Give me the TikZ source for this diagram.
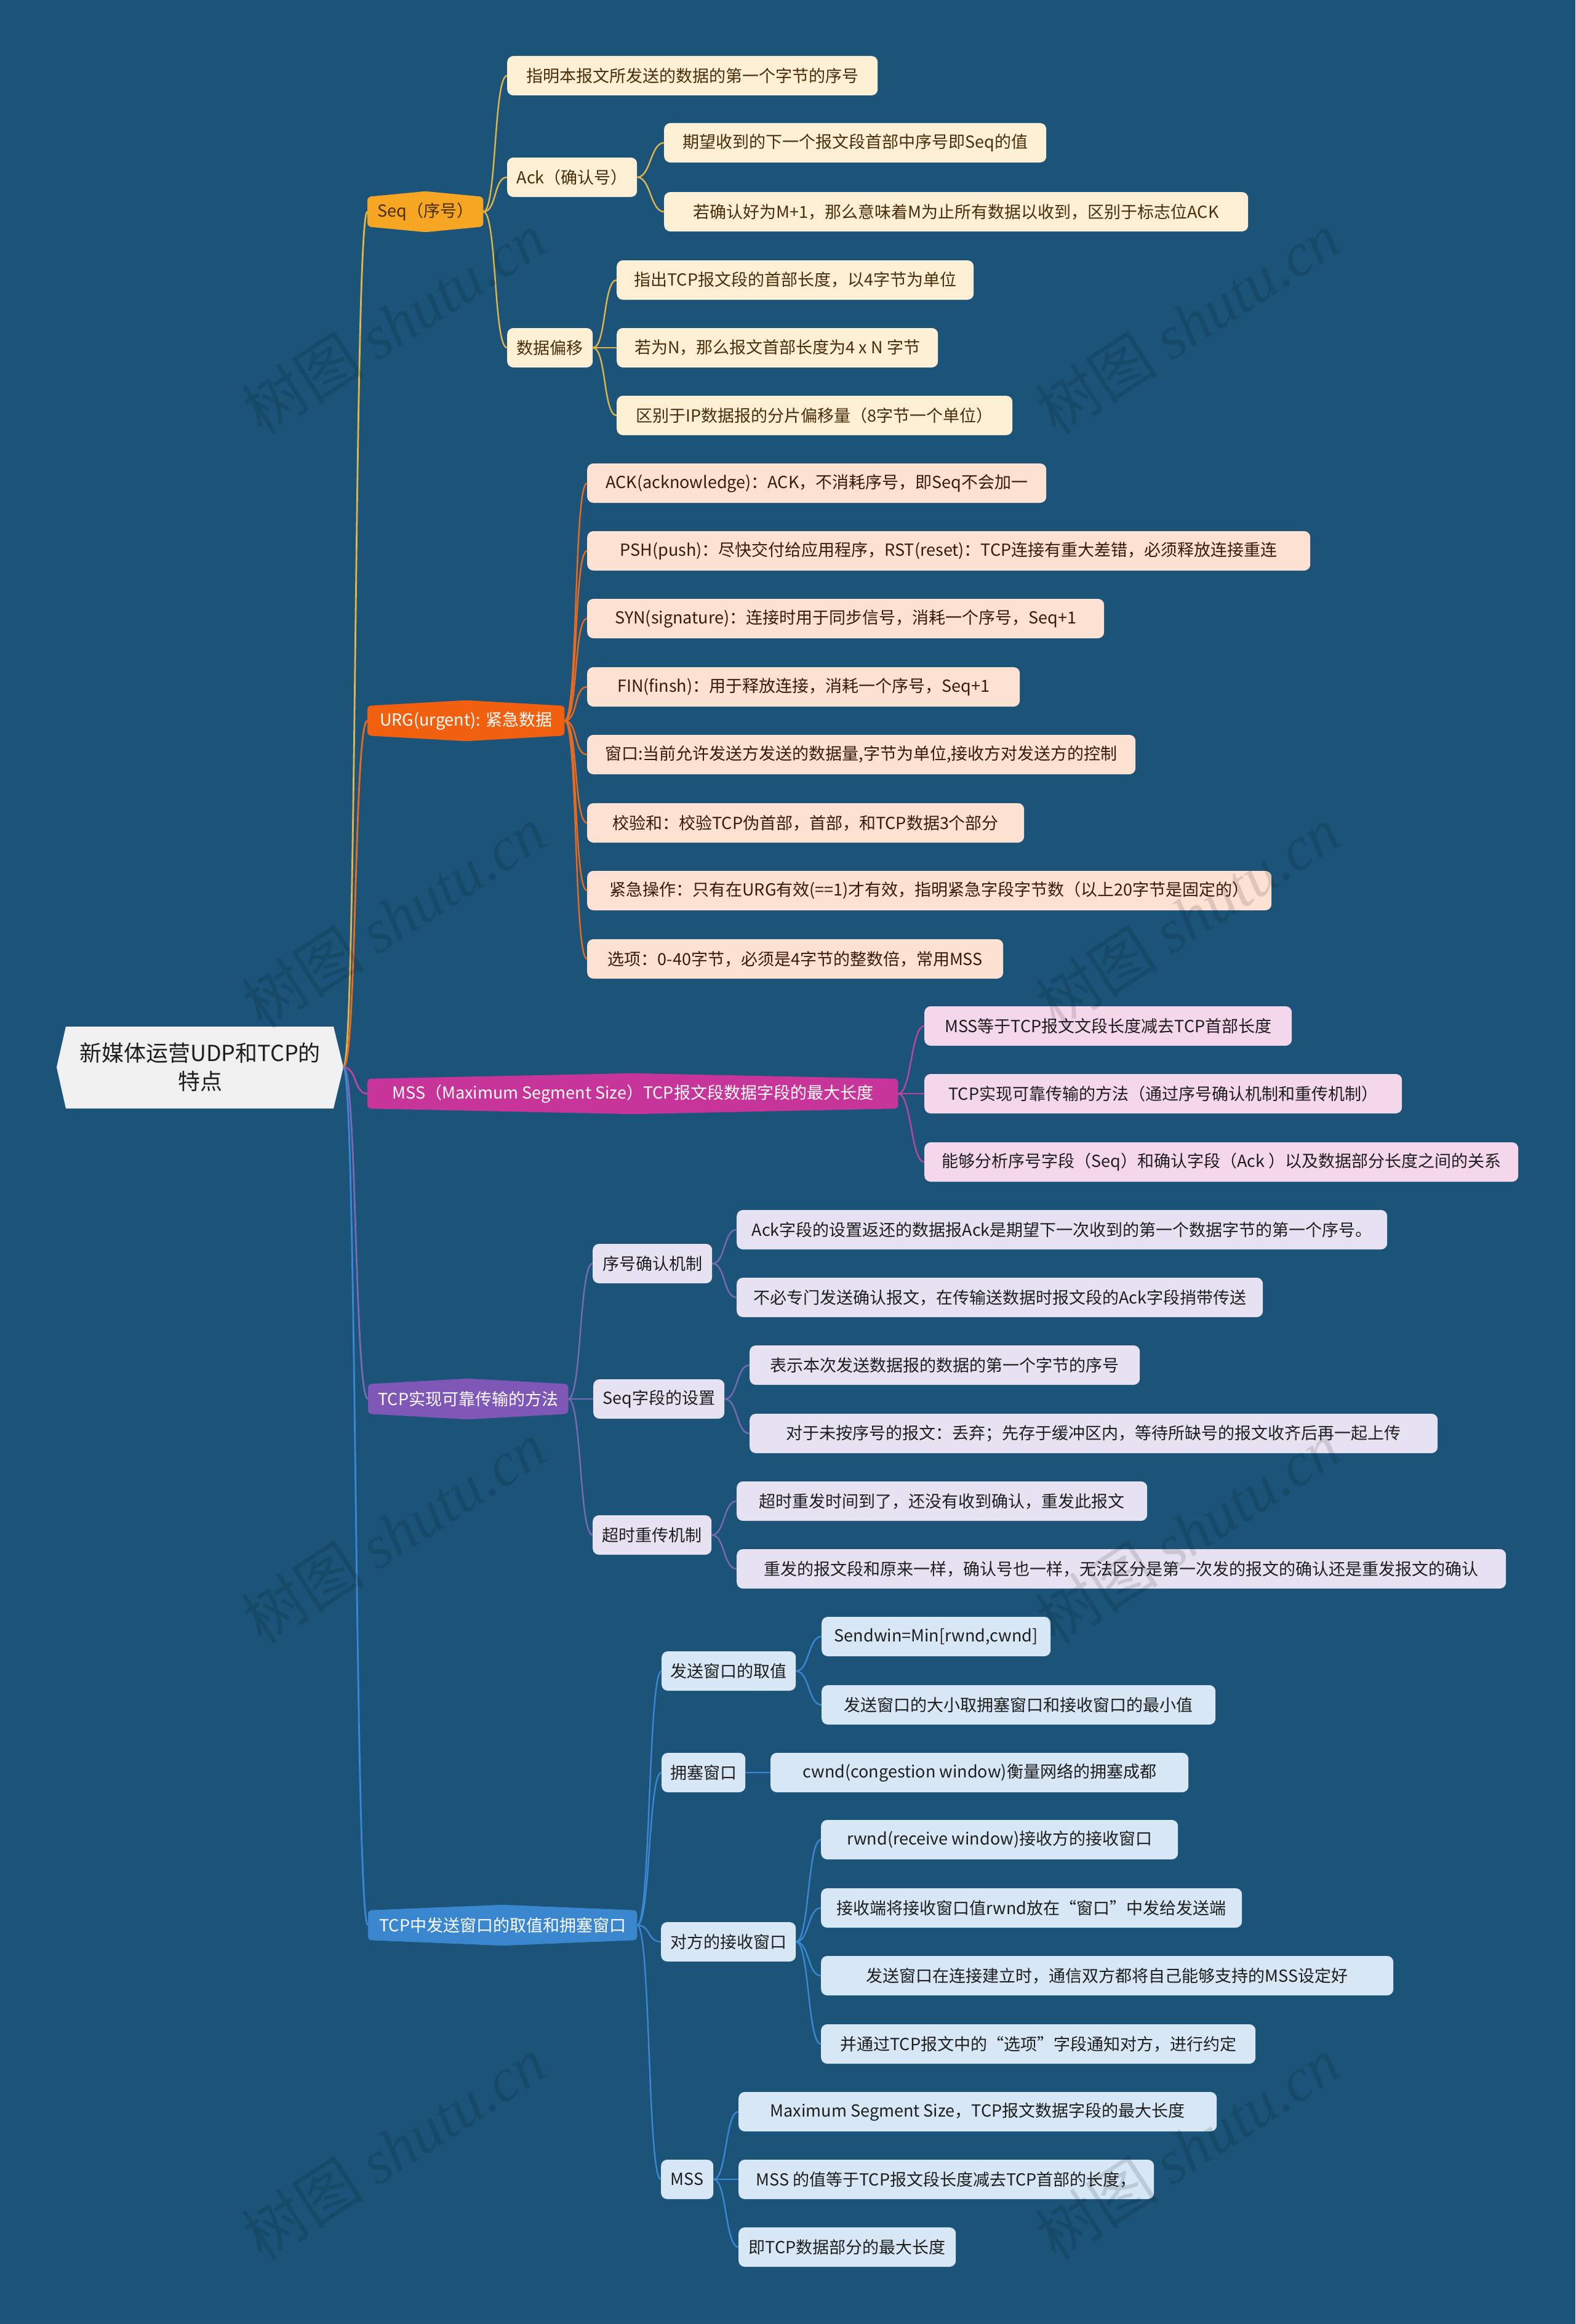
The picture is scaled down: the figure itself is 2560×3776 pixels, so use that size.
\documentclass[tikz,border=0pt]{standalone}
\usepackage{fontspec}
\setmainfont{Noto Sans CJK SC}
\newfontfamily\wmserif{Liberation Serif}
\usetikzlibrary{calc}
\pgfdeclarelayer{back}
\pgfdeclarelayer{bg}
\pgfsetlayers{back,bg,main}
\definecolor{bgc}{HTML}{1B5478}
\definecolor{rootfill}{HTML}{F0F0F0}
\definecolor{seqfill}{HTML}{F6A623}
\definecolor{seqleaf}{HTML}{FDEFD4}
\definecolor{seqline}{HTML}{E2B54B}
\definecolor{seqtext}{HTML}{4A2E0C}
\definecolor{urgfill}{HTML}{F0600F}
\definecolor{urgleaf}{HTML}{FDE1D3}
\definecolor{urgline}{HTML}{EA6A1F}
\definecolor{urgtext}{HTML}{3B1A0B}
\definecolor{mssfill}{HTML}{C7359A}
\definecolor{mssleaf}{HTML}{F4D7EA}
\definecolor{mssline}{HTML}{B9479F}
\definecolor{relfill}{HTML}{7F58B7}
\definecolor{relleaf}{HTML}{E6E2F1}
\definecolor{relline}{HTML}{7A69B5}
\definecolor{winfill}{HTML}{3A86CF}
\definecolor{winleaf}{HTML}{D7E7F5}
\definecolor{winline}{HTML}{3C87D3}
\definecolor{darktext}{HTML}{1E1E1E}
\newcommand\fs{\fontsize{27}{32}\selectfont}
\newcommand\conn[3]{\draw[#3] (#1.east) .. controls +(22,0) and +(-22,0) .. (#2.west);}
\newcommand\hexbg[2]{\begin{pgfonlayer}{bg}\fill[#2, rounded corners=6pt] (#1.north west) -- ($(#1.north)+(0,-9)$) -- (#1.north east) -- (#1.south east) -- ($(#1.south)+(0,9)$) -- (#1.south west) -- cycle;\end{pgfonlayer}}
\tikzset{
  every node/.style={font=\fs},
  box/.style={anchor=west, rounded corners=10pt, minimum height=64pt, inner xsep=12pt, inner ysep=0pt, align=center},
  lone/.style={anchor=west, minimum height=48pt, inner xsep=12pt, inner ysep=0pt},
  sq/.style={box, fill=seqleaf, text=seqtext},
  ug/.style={box, fill=urgleaf, text=urgtext},
  ms/.style={box, fill=mssleaf, text=darktext},
  rl/.style={box, fill=relleaf, text=darktext},
  wn/.style={box, fill=winleaf, text=darktext},
  lseq/.style={line width=2.4pt, seqline},
  lurg/.style={line width=2.4pt, urgline},
  lmss/.style={line width=2.4pt, mssline},
  lrel/.style={line width=2.4pt, relline},
  lwin/.style={line width=2.4pt, winline},
  wm/.style={rotate=33, opacity=0.12, text=black, font=\fontsize{100}{110}\selectfont},
}
\begin{document}
\begin{tikzpicture}[x=1pt,y=-1pt]
\begin{pgfonlayer}{back}
\fill[bgc] (0,0) rectangle (2560,3776);
\end{pgfonlayer}
\useasboundingbox (0,0) rectangle (2560,3776);

% root
\fill[rootfill] (92,1734) -- (107,1668) -- (542,1668) -- (558,1734) -- (542,1801) -- (107,1801) -- cycle;
\node[text=darktext, align=center, font=\fontsize{36}{46}\selectfont] (root) at (325,1734) {新媒体运营UDP和TCP的\\特点};
\coordinate (rootp) at (558,1734);

% level 1
\node[lone, minimum width=188pt, text=seqtext] (seq) at (597,344) {Seq（序号）};
\hexbg{seq}{seqfill}
\node[lone, minimum width=320pt, text=white] (urg) at (597,1171) {URG(urgent): 紧急数据};
\hexbg{urg}{urgfill}
\node[lone, minimum width=862pt, text=white] (mss) at (597,1777) {MSS（Maximum Segment Size）TCP报文段数据字段的最大长度};
\hexbg{mss}{mssfill}
\node[lone, minimum width=325pt, text=white] (rel) at (598,2273) {TCP实现可靠传输的方法};
\hexbg{rel}{relfill}
\node[lone, minimum width=437pt, text=white] (win) at (598,3128) {TCP中发送窗口的取值和拥塞窗口};
\hexbg{win}{winfill}

\foreach \n/\s in {seq/lseq,urg/lurg,mss/lmss,rel/lrel,win/lwin}
  {\draw[\s, line width=2.8pt] (rootp) .. controls +(22,0) and +(-22,0) .. (\n.west);}

% Seq branch
\node[sq, minimum width=602pt] (s1) at (824,123) {指明本报文所发送的数据的第一个字节的序号};
\node[sq, minimum width=211pt] (ack) at (824,288) {Ack（确认号）};
\node[sq, minimum width=139pt] (off) at (824,565) {数据偏移};
\node[sq, minimum width=621pt] (a1) at (1079,232) {期望收到的下一个报文段首部中序号即Seq的值};
\node[sq, minimum width=949pt] (a2) at (1079,344) {若确认好为M+1，那么意味着M为止所有数据以收到，区别于标志位ACK};
\node[sq, minimum width=580pt] (o1) at (1002,455) {指出TCP报文段的首部长度，以4字节为单位};
\node[sq, minimum width=522pt] (o2) at (1002,565) {若为N，那么报文首部长度为4 x N 字节};
\node[sq, minimum width=643pt] (o3) at (1002,675) {区别于IP数据报的分片偏移量（8字节一个单位）};
\conn{seq}{s1}{lseq}
\conn{seq}{ack}{lseq}
\conn{seq}{off}{lseq}
\conn{ack}{a1}{lseq}
\conn{ack}{a2}{lseq}
\conn{off}{o1}{lseq}
\conn{off}{o2}{lseq}
\conn{off}{o3}{lseq}

% URG branch
\node[ug, minimum width=746pt] (u1) at (954,785) {ACK(acknowledge)：ACK，不消耗序号，即Seq不会加一};
\node[ug, minimum width=1175pt] (u2) at (954,895) {PSH(push)：尽快交付给应用程序，RST(reset)：TCP连接有重大差错，必须释放连接重连};
\node[ug, minimum width=840pt] (u3) at (954,1005) {SYN(signature)：连接时用于同步信号，消耗一个序号，Seq+1};
\node[ug, minimum width=703pt] (u4) at (954,1116) {FIN(finsh)：用于释放连接，消耗一个序号，Seq+1};
\node[ug, minimum width=891pt] (u5) at (954,1226) {窗口:当前允许发送方发送的数据量,字节为单位,接收方对发送方的控制};
\node[ug, minimum width=710pt] (u6) at (954,1337) {校验和：校验TCP伪首部，首部，和TCP数据3个部分};
\node[ug, minimum width=1112pt] (u7) at (954,1447) {紧急操作：只有在URG有效(==1)才有效，指明紧急字段字节数（以上20字节是固定的）};
\node[ug, minimum width=676pt] (u8) at (954,1558) {选项：0-40字节，必须是4字节的整数倍，常用MSS};
\foreach \c in {u1,u2,u3,u4,u5,u6,u7,u8} {\conn{urg}{\c}{lurg}}

% MSS branch
\node[ms, minimum width=597pt] (m1) at (1502,1667) {MSS等于TCP报文文段长度减去TCP首部长度};
\node[ms, minimum width=776pt] (m2) at (1502,1777) {TCP实现可靠传输的方法（通过序号确认机制和重传机制）};
\node[ms, minimum width=965pt] (m3) at (1502,1888) {能够分析序号字段（Seq）和确认字段（Ack ）以及数据部分长度之间的关系};
\foreach \c in {m1,m2,m3} {\conn{mss}{\c}{lmss}}

% reliable transfer branch
\node[rl, minimum width=194pt] (r1) at (963,2053) {序号确认机制};
\node[rl, minimum width=213pt] (r2) at (964,2273) {Seq字段的设置};
\node[rl, minimum width=193pt] (r3) at (963,2494) {超时重传机制};
\node[rl, minimum width=1057pt] (r11) at (1197,1998) {Ack字段的设置返还的数据报Ack是期望下一次收到的第一个数据字节的第一个序号。};
\node[rl, minimum width=855pt] (r12) at (1197,2108) {不必专门发送确认报文，在传输送数据时报文段的Ack字段捎带传送};
\node[rl, minimum width=634pt] (r21) at (1218,2218) {表示本次发送数据报的数据的第一个字节的序号};
\node[rl, minimum width=1118pt] (r22) at (1218,2329) {对于未按序号的报文：丢弃；先存于缓冲区内，等待所缺号的报文收齐后再一起上传};
\node[rl, minimum width=667pt] (r31) at (1197,2439) {超时重发时间到了，还没有收到确认，重发此报文};
\node[rl, minimum width=1250pt] (r32) at (1197,2549) {重发的报文段和原来一样，确认号也一样，无法区分是第一次发的报文的确认还是重发报文的确认};
\foreach \c in {r1,r2,r3} {\conn{rel}{\c}{lrel}}
\conn{r1}{r11}{lrel}
\conn{r1}{r12}{lrel}
\conn{r2}{r21}{lrel}
\conn{r2}{r22}{lrel}
\conn{r3}{r31}{lrel}
\conn{r3}{r32}{lrel}

% window branch
\node[wn, minimum width=218pt] (w1) at (1075,2715) {发送窗口的取值};
\node[wn, minimum width=136pt] (w2) at (1075,2880) {拥塞窗口};
\node[wn, minimum width=219pt] (w3) at (1074,3155) {对方的接收窗口};
\node[wn, minimum width=85pt] (w4) at (1074,3541) {MSS};
\node[wn, minimum width=372pt] (w11) at (1335,2659) {Sendwin=Min[rwnd,cwnd]};
\node[wn, minimum width=640pt] (w12) at (1335,2770) {发送窗口的大小取拥塞窗口和接收窗口的最小值};
\node[wn, minimum width=679pt] (w21) at (1252,2880) {cwnd(congestion window)衡量网络的拥塞成都};
\node[wn, minimum width=580pt] (w31) at (1334,2989) {rwnd(receive window)接收方的接收窗口};
\node[wn, minimum width=684pt] (w32) at (1334,3100) {接收端将接收窗口值rwnd放在“窗口”中发给发送端};
\node[wn, minimum width=930pt] (w33) at (1334,3210) {发送窗口在连接建立时，通信双方都将自己能够支持的MSS设定好};
\node[wn, minimum width=706pt] (w34) at (1334,3321) {并通过TCP报文中的“选项”字段通知对方，进行约定};
\node[wn, minimum width=777pt] (w41) at (1200,3431) {Maximum Segment Size，TCP报文数据字段的最大长度};
\node[wn, minimum width=675pt] (w42) at (1200,3541) {MSS 的值等于TCP报文段长度减去TCP首部的长度，};
\node[wn, minimum width=353pt] (w43) at (1200,3651) {即TCP数据部分的最大长度};
\foreach \c in {w1,w2,w3,w4} {\conn{win}{\c}{lwin}}
\conn{w1}{w11}{lwin}
\conn{w1}{w12}{lwin}
\conn{w2}{w21}{lwin}
\foreach \c in {w31,w32,w33,w34} {\conn{w3}{\c}{lwin}}
\foreach \c in {w41,w42,w43} {\conn{w4}{\c}{lwin}}

% watermarks
\foreach \wx in {640,1930}
  {\foreach \wy in {525,1490,2490,3490}
    {\node[wm] at (\wx,\wy) {树图 {\wmserif\itshape shutu.cn}};}}
\end{tikzpicture}
\end{document}
